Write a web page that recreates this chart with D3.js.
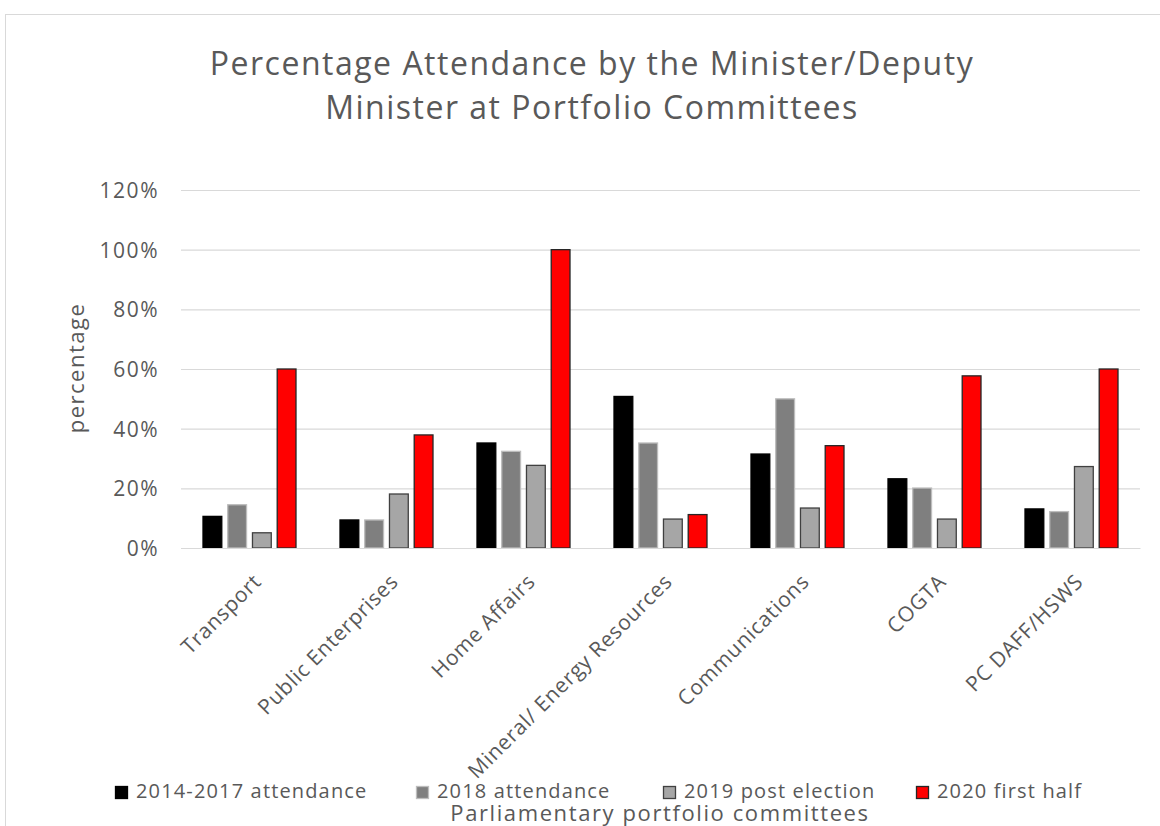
<!DOCTYPE html>
<html>
<head>
<meta charset="utf-8">
<script src="https://cdn.jsdelivr.net/npm/d3@7"></script>
<style>
  html, body { margin: 0; padding: 0; background: #fff; }
  svg { display: block; }
  text { font-family: "Open Sans", "Noto Sans", sans-serif; fill: #595959; }
</style>
</head>
<body>
<svg id="chart" width="1160" height="826"></svg>
<script>
const categories = ["Transport", "Public Enterprises", "Home Affairs", "Mineral/ Energy Resources", "Communications", "COGTA", "PC DAFF/HSWS"];
const seriesNames = ["2014-2017 attendance", "2018 attendance", "2019 post election", "2020 first half"];
const att2014_2017 = [0.106, 0.094, 0.352, 0.508, 0.315, 0.232, 0.131];
const att2018 = [0.145, 0.094, 0.324, 0.352, 0.50, 0.201, 0.122];
const post2019 = [0.051, 0.181, 0.277, 0.097, 0.134, 0.097, 0.273];
const first2020 = [0.60, 0.379, 1.00, 0.112, 0.343, 0.577, 0.60];
const yTicks = [0, 0.2, 0.4, 0.6, 0.8, 1.0, 1.2];
const titleLines = ["Percentage Attendance by the Minister/Deputy", "Minister at Portfolio Committees"];

const seriesValues = [att2014_2017, att2018, post2019, first2020];
const fills = ["#000000", "#7f7f7f", "#a6a6a6", "#ff0000"];
const strokes = ["#000000", "#bdbdbd", "#404040", "#262626"];

const svg = d3.select("#chart");

// chart border
svg.append("rect").attr("x", 5.5).attr("y", 14.5).attr("width", 1200).attr("height", 900)
  .attr("fill", "none").attr("stroke", "#d9d9d9").attr("stroke-width", 1);

const plotLeft = 181, plotRight = 1140, plotTop = 190, plotBottom = 548;

const y = d3.scaleLinear().domain([0, 1.2]).range([plotBottom, plotTop]);
const x0 = d3.scaleBand().domain(categories).range([plotLeft, plotRight]).paddingInner(0).paddingOuter(0);
const groupW = 94;
const x1 = d3.scaleBand().domain(seriesNames)
  .range([(x0.bandwidth() - groupW) / 2, (x0.bandwidth() + groupW) / 2])
  .paddingInner(0.2).paddingOuter(0);

// gridlines
const yAxis = d3.axisLeft(y).tickValues(yTicks).tickFormat(d3.format(".0%")).tickSize(-(plotRight - plotLeft)).tickPadding(22);
const gy = svg.append("g").attr("transform", `translate(${plotLeft},0)`).call(yAxis);
gy.select(".domain").remove();
gy.selectAll(".tick line").attr("stroke", "#d9d9d9").attr("stroke-width", 1.2);
gy.selectAll(".tick text").attr("font-size", 21).attr("fill", "#595959")
  .style("font-family", "'Open Sans', sans-serif").style("letter-spacing", "1.5px").attr("dy", "0.35em");

// bars
const data = [];
categories.forEach((c, i) => seriesNames.forEach((s, j) => data.push({ c, s, j, v: seriesValues[j][i] })));
svg.append("g").selectAll("rect").data(data).join("rect")
  .attr("x", d => x0(d.c) + x1(d.s) + 0.5)
  .attr("y", d => y(d.v))
  .attr("width", x1.bandwidth() - 1)
  .attr("height", d => y(0) - y(d.v))
  .attr("fill", d => fills[d.j])
  .attr("stroke", d => strokes[d.j])
  .attr("stroke-width", 1.3);

// x axis baseline
const xAxis = d3.axisBottom(x0).tickSize(0).tickPadding(0);
const gx = svg.append("g").attr("transform", `translate(0,${plotBottom})`).call(xAxis);
gx.select(".domain").attr("stroke", "#d9d9d9").attr("stroke-width", 1.2);
gx.selectAll(".tick text")
  .attr("font-size", 21).attr("fill", "#595959").style("font-family", "'Open Sans', sans-serif")
  .style("letter-spacing", "0.7px")
  .attr("text-anchor", "end")
  .attr("y", 0).attr("dy", 0)
  .attr("transform", "translate(13,35) rotate(-45)");

// title
svg.append("g").selectAll("text").data(titleLines).join("text")
  .attr("x", 592).attr("y", (d, i) => 75 + i * 44)
  .attr("text-anchor", "middle").attr("font-size", 32).style("letter-spacing", "1.5px").text(d => d);

// y axis title
svg.append("text").attr("transform", "translate(84,368) rotate(-90)")
  .attr("text-anchor", "middle").attr("font-size", 22).style("letter-spacing", "1.5px").text("percentage");

// legend
const legendX = [115, 416, 663, 916];
const lg = svg.append("g").selectAll("g").data(seriesNames).join("g")
  .attr("transform", (d, i) => `translate(${legendX[i]},0)`);
lg.append("rect").attr("x", 0.5).attr("y", 786.5).attr("width", 12).attr("height", 12)
  .attr("fill", (d, i) => fills[i]).attr("stroke", (d, i) => strokes[i]).attr("stroke-width", 1.3);
lg.append("text").attr("x", 21).attr("y", 798).attr("font-size", 20).style("letter-spacing", "1.15px").text(d => d);

// x axis title
svg.append("text").attr("x", 660).attr("y", 821).attr("text-anchor", "middle")
  .attr("font-size", 22).style("letter-spacing", "1.6px").text("Parliamentary portfolio committees");
</script>
</body>
</html>
